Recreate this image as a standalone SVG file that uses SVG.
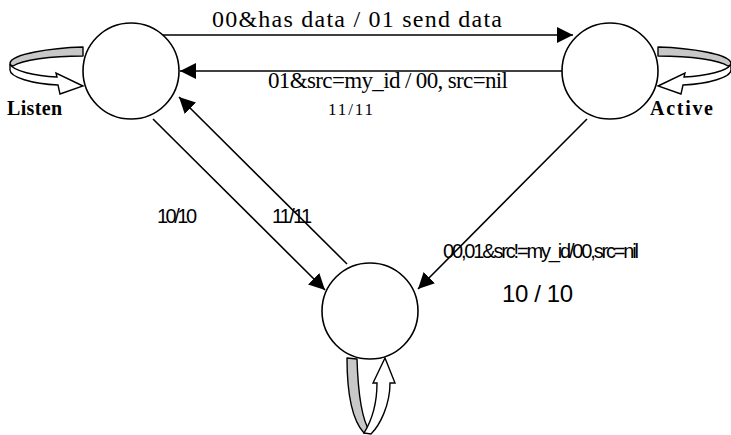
<svg xmlns="http://www.w3.org/2000/svg" width="731" height="435" viewBox="0 0 731 435">
<style>
.node{fill:#fff;stroke:#000;stroke-width:1.6}
.edge{fill:none;stroke:#000;stroke-width:1.6}
.loopg{fill:#c8c8c8;stroke:#000;stroke-width:1.4;stroke-linejoin:round}
.loopw{fill:#fff;stroke:#000;stroke-width:1.4;stroke-linejoin:miter}
.serif{font-family:"Liberation Serif","Times New Roman",serif;fill:#000}
.sans{font-family:"Liberation Sans",Arial,sans-serif;fill:#000}
.lbl{font-family:"Liberation Serif","Times New Roman",serif;font-weight:bold;font-size:20px;fill:#000}
</style>
<defs>
<marker id="ah" markerUnits="userSpaceOnUse" markerWidth="17" markerHeight="16" refX="16" refY="8" orient="auto">
<path d="M0,0 L16,8 L0,16 Z" fill="#000"/>
</marker>
<g id="loopL">
<path class="loopg" d="M83,47 C50,48 12,54 10,63 C10,65 11,66 13,66 C22,60 50,56 83,56 Z"/>
<path class="loopw" d="M10,64 C13,71 35,76 57,77 L56,73 L83,86 L60,94 L58,85 C32,84 10,77 10,70 Z"/>
</g>
</defs>

<g id="connectors">
<line class="edge" x1="163" y1="35" x2="573" y2="35" marker-end="url(#ah)"/>
<line class="edge" x1="562" y1="71" x2="180" y2="71" marker-end="url(#ah)"/>
<line class="edge" x1="153" y1="119" x2="325" y2="290" marker-end="url(#ah)"/>
<line class="edge" x1="347" y1="264" x2="179" y2="97" marker-end="url(#ah)"/>
<line class="edge" x1="587" y1="119" x2="418" y2="289" marker-end="url(#ah)"/>
<text class="serif" x="212" y="27" font-size="24" textLength="290">00&amp;has data / 01 send data</text>
<text class="serif" x="268" y="88" font-size="23" textLength="240">01&amp;src=my_id / 00, src=nil</text>
<text class="serif" x="328" y="115" font-size="17" textLength="45">11/11</text>
<text class="sans" x="157" y="223" font-size="20" textLength="40">10/10</text>
<text class="sans" x="272" y="223" font-size="20" textLength="40">11/11</text>
<text class="sans" x="443" y="258" font-size="20" textLength="196">00,01&amp;src!=my_id/00,src=nil</text>
<text class="sans" x="502" y="302" font-size="24" textLength="71">10 / 10</text>
</g>

<g id="listen">
<use href="#loopL"/>
<circle class="node" cx="131" cy="71" r="48"/>
<text class="lbl" x="7" y="115" textLength="55">Listen</text>
</g>

<g id="active">
<use href="#loopL" transform="translate(741,0) scale(-1,1)"/>
<circle class="node" cx="610" cy="71" r="48"/>
<text class="lbl" x="650" y="115" textLength="63">Active</text>
</g>

<g id="bottom">
<path class="loopg" d="M347,358 L357,359 C358,392 362,420 370,432 L364,433 C352,420 347,392 347,358 Z"/>
<path class="loopw" d="M364,433 C372,420 377,402 377,383 L373,383 L385,358 L395,383 L390,383 C390,405 380,425 371,434 Z"/>
<circle class="node" cx="370" cy="311" r="48"/>
</g>
</svg>
